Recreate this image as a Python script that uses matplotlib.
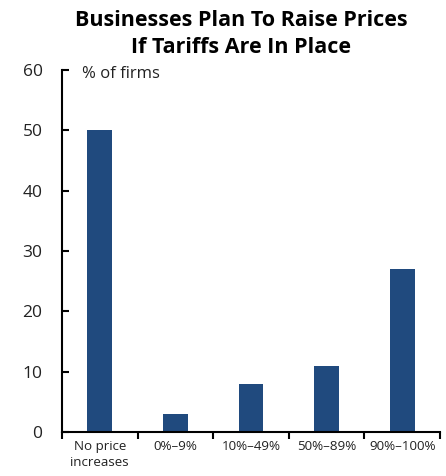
import numpy as np
import matplotlib
matplotlib.use("Agg")
from matplotlib import pyplot as plt

categories = ["No price\nincreases", "0%\u20139%", "10%\u201349%", "50%\u201389%", "90%\u2013100%"]
share = [50, 3, 8, 11, 27]
yticks = [0, 10, 20, 30, 40, 50, 60]

plt.rcParams["font.family"] = ["Open Sans", "DejaVu Sans"]

fig = plt.figure(figsize=(4.46, 4.76), dpi=100)
ax = fig.add_axes([0.139, 0.0924, 0.8475, 0.7606])

x = np.arange(len(categories))
ax.bar(x, share, width=0.33, color="#204a7e")

ax.set_xlim(-0.5, len(categories) - 0.5)
ax.set_ylim(0, 60)
ax.set_yticks(yticks)
ax.set_xticks(x)
ax.set_xticklabels(categories, fontsize=9.6, linespacing=1.25, color="#222222")
ax.set_xticks(np.arange(-0.5, len(categories)), minor=True)

ax.tick_params(axis="y", direction="in", length=5, width=1.5, labelsize=12.5, pad=14, labelcolor="#222222")
ax.tick_params(axis="x", which="major", length=0, pad=6)
ax.tick_params(axis="x", which="minor", direction="out", length=5, width=1.5)

for side in ["top", "right"]:
    ax.spines[side].set_visible(False)
for side in ["left", "bottom"]:
    ax.spines[side].set_linewidth(1.5)

# unit label sits just inside the top of the axis
ax.text(0.053, 0.99, "% of firms", transform=ax.transAxes, fontsize=12, va="center", ha="left",
        color="#222222")

fig.text(0.541, 0.978, "Businesses Plan To Raise Prices\nIf Tariffs Are In Place",
         ha="center", va="top", fontsize=15.5, fontweight="bold", linespacing=1.35)

fig.savefig("out.png", dpi=100)
